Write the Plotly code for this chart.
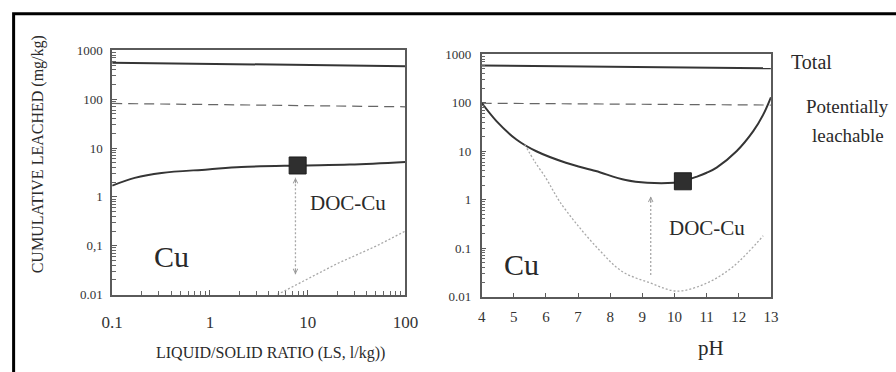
import math
import plotly.graph_objects as go

# ---- Leaching vs liquid/solid ratio (left panel) ----
ls_ends = [0.1, 100]
total_ls = [560, 475]
leachable_ls = [82, 70]

ls_cu = [0.1, 0.17, 0.32, 0.95, 2.1, 7.9, 27, 100]
cu_ls = [1.7, 2.45, 3.1, 3.65, 4.1, 4.4, 4.6, 5.2]

ls_doc = [4.9, 10, 20, 50, 100]
doc_ls = [0.01, 0.021, 0.043, 0.098, 0.2]

ls_marker = [7.9]
cu_marker_ls = [4.4]

ls_arrow_x = 7.5
ls_arrow_y = [0.026, 2.46]

# ---- Leaching vs pH (right panel) ----
ph_ends = [4, 13]
total_ph = [590, 515]
leachable_ph = [98, 90]

ph_cu = [4.0, 4.46, 5.08, 5.70, 6.62, 7.55, 8.48, 9.15, 9.98, 10.26, 10.70, 11.0, 11.31, 11.93, 12.45, 12.76, 13.0]
cu_ph = [100, 42, 17.5, 10, 5.8, 3.9, 2.55, 2.24, 2.24, 2.4, 3.0, 3.6, 4.6, 10, 26, 57, 130]

ph_doc = [5.34, 5.66, 6.0, 6.21, 6.42, 6.93, 7.65, 8.37, 9.26, 10.08, 11.0, 11.83, 12.76]
doc_ph = [13.8, 6.0, 2.8, 1.6, 0.93, 0.33, 0.093, 0.033, 0.019, 0.013, 0.019, 0.042, 0.18]

ph_marker = [10.26]
cu_marker_ph = [2.4]

ph_arrow_x = 9.26
ph_arrow_y = [0.028, 1.17]

# ---- Tick labels ----
y_tickvals = [1000, 100, 10, 1, 0.1, 0.01]
y_ticktext_left = ["1000", "100", "10", "1", "0,1", "0.01"]
y_ticktext_right = ["1000", "100", "10", "1", "0.1", "0.01"]
ls_tickvals = [0.1, 1, 10, 100]
ls_ticktext = ["0.1", "1", "10", "100"]
ph_tickvals = list(range(4, 14))

W, H = 896, 372
SERIF = "Liberation Serif, Times New Roman, serif"
DARK = "#353535"
AXIS = "#5a5a5a"
DOT = "#a8a8a8"

# The page keeps the body's 8px margin and is then fitted to the window,
# so layout positions are written in window pixels and converted here.
BODY = 8
SX = W / (W + 2 * BODY)
SY = H / (H + 2 * BODY)


def px(x):
    return (x / SX - BODY) / W


def py(y):
    return 1 - (y / SY - BODY) / H


fig = go.Figure()

# left panel
fig.add_trace(go.Scatter(x=ls_ends, y=total_ls, mode="lines",
                         line=dict(color=DARK, width=2), xaxis="x", yaxis="y"))
fig.add_trace(go.Scatter(x=ls_ends, y=leachable_ls, mode="lines",
                         line=dict(color="#666", width=1.2, dash="10px,6px"), xaxis="x", yaxis="y"))
fig.add_trace(go.Scatter(x=ls_cu, y=cu_ls, mode="lines", line_shape="spline",
                         line=dict(color=DARK, width=2), xaxis="x", yaxis="y"))
fig.add_trace(go.Scatter(x=ls_doc, y=doc_ls, mode="lines",
                         line=dict(color=DOT, width=1.3, dash="2px,2px"), xaxis="x", yaxis="y"))
fig.add_trace(go.Scatter(x=[ls_arrow_x, ls_arrow_x], y=ls_arrow_y, mode="lines",
                         line=dict(color=DOT, width=1.3, dash="2px,2px"), xaxis="x", yaxis="y"))
fig.add_trace(go.Scatter(x=ls_marker, y=cu_marker_ls, mode="markers",
                         marker=dict(symbol="square", size=17, color="#2f2f2f",
                                     line=dict(color="#1e1e1e", width=1)), xaxis="x", yaxis="y"))

# right panel
fig.add_trace(go.Scatter(x=ph_ends, y=total_ph, mode="lines",
                         line=dict(color=DARK, width=2), xaxis="x2", yaxis="y2"))
fig.add_trace(go.Scatter(x=ph_ends, y=leachable_ph, mode="lines",
                         line=dict(color="#666", width=1.2, dash="10px,6px"), xaxis="x2", yaxis="y2"))
fig.add_trace(go.Scatter(x=ph_cu, y=cu_ph, mode="lines", line_shape="spline",
                         line=dict(color=DARK, width=2), xaxis="x2", yaxis="y2"))
fig.add_trace(go.Scatter(x=ph_doc, y=doc_ph, mode="lines", line_shape="spline",
                         line=dict(color=DOT, width=1.3, dash="2px,2px"), xaxis="x2", yaxis="y2"))
fig.add_trace(go.Scatter(x=[ph_arrow_x, ph_arrow_x], y=ph_arrow_y, mode="lines",
                         line=dict(color=DOT, width=1.3, dash="2px,2px"), xaxis="x2", yaxis="y2"))
fig.add_trace(go.Scatter(x=ph_marker, y=cu_marker_ph, mode="markers",
                         marker=dict(symbol="square", size=17, color="#2f2f2f",
                                     line=dict(color="#1e1e1e", width=1)), xaxis="x2", yaxis="y2"))

axis_common = dict(showline=True, mirror=True, linecolor=AXIS, linewidth=1.5,
                   ticks="inside", tickcolor=AXIS, tickwidth=1, showgrid=False,
                   zeroline=False)
minor_log = dict(ticks="inside", ticklen=4, tickcolor="#666", dtick="D1", showgrid=False)

fig.update_layout(
    width=W, height=H, margin=dict(l=0, r=0, t=0, b=0),
    paper_bgcolor="white", plot_bgcolor="white", showlegend=False,
    xaxis=dict(type="log", range=[-1, 2], domain=[px(110), px(406)], anchor="y",
               tickvals=ls_tickvals, ticktext=ls_ticktext, ticklen=5, ticklabelstandoff=11,
               tickfont=dict(family=SERIF, size=17, color="#333"),
               minor=minor_log, **axis_common),
    yaxis=dict(type="log", range=[-2, 3], domain=[py(295), py(51)], anchor="x",
               tickvals=y_tickvals, ticktext=y_ticktext_left, ticklen=5, ticklabelstandoff=5,
               tickfont=dict(family=SERIF, size=13, color="#333"),
               minor=minor_log, **axis_common),
    xaxis2=dict(range=[4, 13], domain=[px(483), px(775)], anchor="y2",
                tickvals=ph_tickvals, ticklen=4, ticklabelstandoff=6,
                tickfont=dict(family=SERIF, size=15, color="#333"),
                **axis_common),
    yaxis2=dict(type="log", range=[-2, 3], domain=[py(297), py(55)], anchor="x2",
                tickvals=y_tickvals, ticktext=y_ticktext_right, ticklen=5, ticklabelstandoff=6,
                tickfont=dict(family=SERIF, size=13, color="#333"),
                minor=minor_log, **axis_common),
)

# outer frame (top and left edges visible, the rest runs off the page)
fig.add_shape(type="rect", xref="paper", yref="paper",
              x0=px(10.5), x1=1.05, y0=-0.05, y1=py(14.5),
              line=dict(color="black", width=3), fillcolor="rgba(0,0,0,0)", layer="above")


def text(x, y, s, size, xanchor="center", angle=0):
    fig.add_annotation(x=px(x), y=py(y), xref="paper", yref="paper", text=s,
                       showarrow=False, xanchor=xanchor, yanchor="middle", textangle=angle,
                       font=dict(family=SERIF, size=size, color="#2a2a2a"))


text(36, 155, "CUMULATIVE LEACHED (mg/kg)", 16, angle=-90)
text(270, 353, "LIQUID/SOLID RATIO (LS, l/kg))", 16)
text(715, 348, "pH", 21)
text(170, 257, "Cu", 30)
text(523, 265, "Cu", 30)
text(348, 203, "DOC-Cu", 21)
text(710, 228, "DOC-Cu", 21)
text(793, 63, "Total", 20, xanchor="left")
text(808, 107, "Potentially", 19, xanchor="left")
text(814, 136, "leachable", 19, xanchor="left")


def head(xref, yref, x, y, ay):
    fig.add_annotation(x=x, y=y, xref=xref, yref=yref, ax=0, ay=ay, text="",
                       showarrow=True, arrowhead=5, arrowsize=0.9, arrowwidth=1,
                       arrowcolor="#999")


# arrowheads on the dotted DOC-Cu arrows (log axes take log10 positions)
head("x", "y", math.log10(ls_arrow_x), math.log10(ls_arrow_y[1]), 7)
head("x", "y", math.log10(ls_arrow_x), math.log10(ls_arrow_y[0]), -7)
head("x2", "y2", ph_arrow_x, math.log10(ph_arrow_y[1]), 7)

fig.write_html("out.html")
